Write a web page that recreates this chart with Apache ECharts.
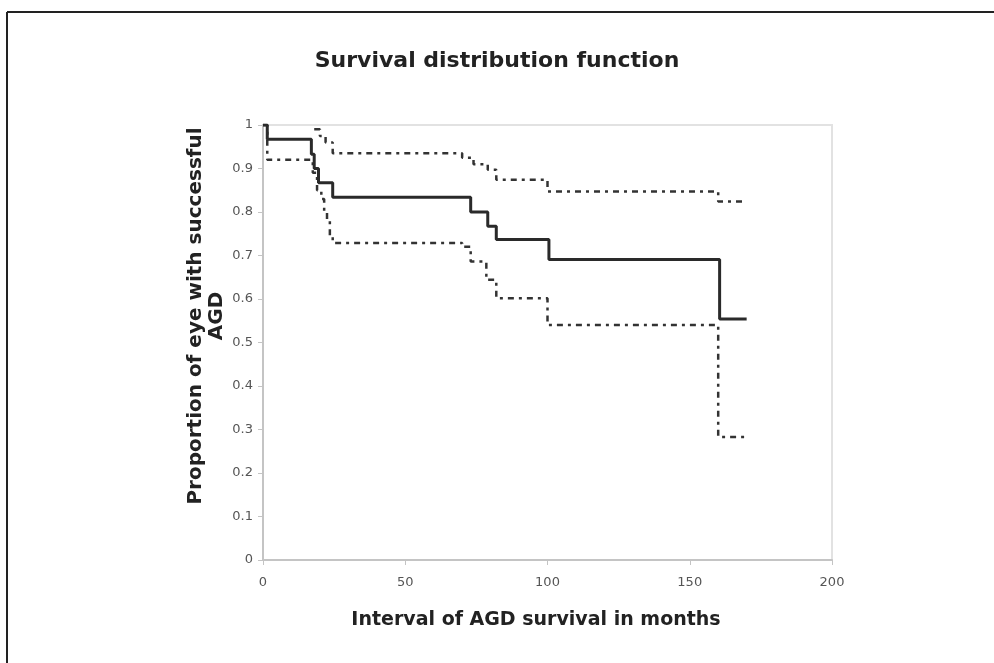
<!DOCTYPE html>
<html>
<head>
<meta charset="utf-8">
<script src="https://cdn.jsdelivr.net/npm/echarts@6/dist/echarts.min.js"></script>
<style>html,body{margin:0;padding:0;background:#fff;}#c{width:994px;height:663px;}</style>
</head>
<body>
<div id="c"></div>
<script>
// Kaplan-Meier estimate (solid)
var survX = [0, 1.5, 17, 18, 19.5, 24.5, 73, 79, 82, 100.5, 160.5, 170];
var survY = [1, 0.967, 0.933, 0.9, 0.867, 0.834, 0.8, 0.767, 0.737, 0.691, 0.554, 0.554];
// Upper confidence limit
var upperX = [18, 20, 22, 24.5, 70, 74, 79, 82, 100, 160, 170];
var upperY = [0.99, 0.975, 0.96, 0.935, 0.925, 0.91, 0.897, 0.874, 0.847, 0.824, 0.824];
// Lower confidence limit
var lowerX = [0, 1.5, 17.5, 19, 20.5, 21.5, 22.5, 23.5, 24.5, 70, 73, 78.5, 82, 100, 160, 170];
var lowerY = [1, 0.92, 0.89, 0.85, 0.83, 0.80, 0.78, 0.745, 0.729, 0.72, 0.686, 0.644, 0.602, 0.54, 0.283, 0.283];
var xTicks = [0, 50, 100, 150, 200];
var yTicks = [0, 0.1, 0.2, 0.3, 0.4, 0.5, 0.6, 0.7, 0.8, 0.9, 1];

function pairs(xs, ys) { return xs.map(function (x, i) { return [x, ys[i]]; }); }

var chart = echarts.init(document.getElementById('c'), null, {renderer: 'canvas'});
var ciStyle = {color: '#333', width: 2.5, type: [6, 5, 3, 5]};
chart.setOption({
  animation: false,
  backgroundColor: '#fff',
  title: {
    text: 'Survival distribution function',
    left: 'center',
    top: 45,
    textStyle: {fontFamily: 'DejaVu Sans', fontWeight: 'bold', fontSize: 22, color: '#222'}
  },
  grid: {left: 263, right: 162, top: 125, bottom: 103, show: true, borderColor: '#e2e2e2', borderWidth: 2},
  xAxis: {
    type: 'value', min: 0, max: 200, interval: 50,
    axisLine: {show: true, lineStyle: {color: '#c4c4c4', width: 2}},
    axisTick: {show: true, length: 5, lineStyle: {color: '#c4c4c4'}},
    splitLine: {show: false},
    axisLabel: {color: '#555', fontFamily: 'DejaVu Sans', fontSize: 13, margin: 16,
      formatter: function (v) { return xTicks.indexOf(v) >= 0 ? String(v) : ''; }}
  },
  yAxis: {
    type: 'value', min: 0, max: 1, interval: 0.1,
    axisLine: {show: true, lineStyle: {color: '#c4c4c4', width: 2}},
    axisTick: {show: true, length: 5, lineStyle: {color: '#c4c4c4'}},
    splitLine: {show: false},
    axisLabel: {color: '#555', fontFamily: 'DejaVu Sans', fontSize: 13, margin: 10,
      formatter: function (v) { var r = Math.round(v * 10) / 10; return yTicks.indexOf(r) >= 0 ? String(r) : ''; }}
  },
  series: [
    {type: 'line', step: 'end', symbol: 'none', data: pairs(upperX, upperY), lineStyle: ciStyle, z: 3},
    {type: 'line', step: 'end', symbol: 'none', data: pairs(lowerX, lowerY), lineStyle: ciStyle, z: 3},
    {type: 'line', step: 'end', symbol: 'none', data: pairs(survX, survY), lineStyle: {color: '#2a2a2a', width: 3}, z: 4}
  ],
  graphic: [
    {type: 'line', shape: {x1: 7, y1: 12, x2: 994, y2: 12}, style: {stroke: '#222', lineWidth: 2}},
    {type: 'line', shape: {x1: 7, y1: 12, x2: 7, y2: 663}, style: {stroke: '#222', lineWidth: 2}},
    {type: 'text', x: 536, y: 620, style: {text: 'Interval of AGD survival in months', align: 'center', verticalAlign: 'middle',
      font: 'bold 19px "DejaVu Sans"', fill: '#222'}},
    {type: 'text', x: 206, y: 316, rotation: Math.PI / 2, style: {text: 'Proportion of eye with successful\nAGD', align: 'center', verticalAlign: 'middle',
      font: 'bold 20px "DejaVu Sans"', fill: '#222', lineHeight: 21}}
  ]
});
</script>
</body>
</html>
